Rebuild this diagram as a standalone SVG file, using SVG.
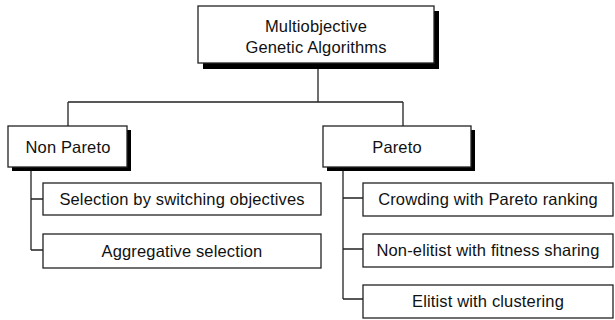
<svg xmlns="http://www.w3.org/2000/svg" width="615" height="320" viewBox="0 0 615 320">
<style>
.box{fill:#fff;stroke:#222;stroke-width:1.3}
.shadow{fill:#000}
.t{font-family:"Liberation Sans",Arial,sans-serif;font-size:16.5px;letter-spacing:0.15px;fill:#111;text-anchor:middle}
.c{fill:none;stroke:#222;stroke-width:1.3}
</style>
<rect width="615" height="320" fill="#fff"/>
<g id="connectors">
<path class="c" d="M318,63 V102 M68,102 H403 M68,102 V126 M403,102 V126"/>
<path class="c" d="M31,167 V250 M31,199 H43 M31,250 H43"/>
<path class="c" d="M343,167 V299 M343,198 H363 M343,249 H363 M343,299 H363"/>
</g>
<g id="root">
<rect class="shadow" x="203" y="11" width="236" height="58"/>
<rect class="box" x="198" y="6" width="236" height="57"/>
<text class="t" x="316" y="32">Multiobjective</text>
<text class="t" x="316" y="53">Genetic Algorithms</text>
</g>
<g id="nonpareto">
<rect class="shadow" x="12" y="130" width="119" height="41"/>
<rect class="box" x="8" y="126" width="119" height="41"/>
<text class="t" x="68" y="153">Non Pareto</text>
</g>
<g id="pareto">
<rect class="shadow" x="327" y="130" width="148" height="41"/>
<rect class="box" x="323" y="126" width="148" height="41"/>
<text class="t" x="397" y="153">Pareto</text>
</g>
<g id="switching">
<rect class="box" x="43" y="183" width="278" height="32"/>
<text class="t" x="182" y="205">Selection by switching objectives</text>
</g>
<g id="aggregative">
<rect class="box" x="43" y="234" width="278" height="34"/>
<text class="t" x="182" y="257">Aggregative selection</text>
</g>
<g id="crowding">
<rect class="box" x="363" y="183" width="250" height="33"/>
<text class="t" x="488" y="205">Crowding with Pareto ranking</text>
</g>
<g id="nonelitist">
<rect class="box" x="363" y="234" width="250" height="33"/>
<text class="t" x="488" y="256">Non-elitist with fitness sharing</text>
</g>
<g id="elitist">
<rect class="box" x="363" y="285" width="250" height="33"/>
<text class="t" x="488" y="307">Elitist with clustering</text>
</g>
</svg>
